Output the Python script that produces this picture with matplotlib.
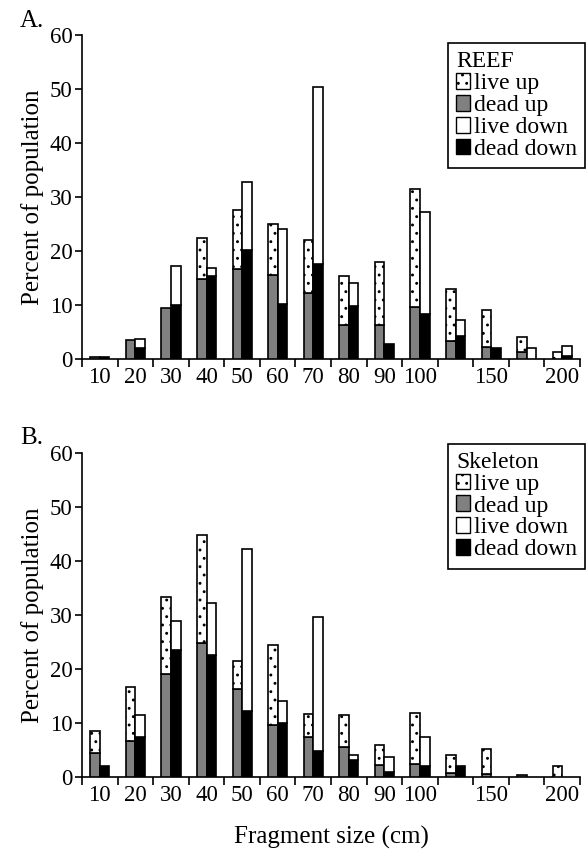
import numpy as np
import matplotlib
matplotlib.use("Agg")
import matplotlib.pyplot as plt
from matplotlib.patches import Patch

plt.rcParams['font.family'] = ['Liberation Serif', 'DejaVu Serif']
plt.rcParams['hatch.linewidth'] = 0.9

# ── data (percent of population) ─────────────────────────────────────────────
size_labels = ['10', '20', '30', '40', '50', '60', '70', '80', '90', '100', '', '150', '', '200']

reef_dead_up   = [0.4, 3.5, 9.4, 14.8, 16.7, 15.6, 12.2, 6.2, 6.2, 9.6, 3.3, 2.2, 1.2, 0]
reef_live_up   = [0, 0, 0, 7.5, 10.8, 9.3, 9.8, 9.1, 11.7, 21.9, 9.7, 6.8, 2.9, 1.2]
reef_dead_down = [0.4, 2.0, 9.9, 15.4, 20.1, 10.2, 17.5, 9.8, 2.7, 8.3, 4.2, 2.0, 0, 0.5]
reef_live_down = [0, 1.7, 7.3, 1.4, 12.6, 13.9, 32.9, 4.3, 0, 18.9, 2.9, 0, 1.9, 1.8]

skel_dead_up   = [4.4, 6.6, 19.1, 24.8, 16.3, 9.6, 7.4, 5.6, 2.2, 2.5, 0.7, 0.6, 0.3, 0]
skel_live_up   = [4.2, 10.1, 14.2, 20.0, 5.2, 14.8, 4.2, 5.9, 3.8, 9.4, 3.4, 4.6, 0, 2.0]
skel_dead_down = [2.0, 7.5, 23.5, 22.7, 12.3, 10.1, 4.9, 3.1, 0.9, 2.0, 2.0, 0, 0, 0]
skel_live_down = [0, 4.0, 5.4, 9.6, 30.0, 3.9, 24.7, 1.0, 2.8, 5.4, 0, 0, 0, 0]

GRAY = '#808080'
BW = 0.27   # bar width in category units
LW = 1.2


def draw_panel(ax, dead_up, live_up, dead_down, live_down, title, tag, leg_y, tag_y):
    x = np.arange(len(size_labels)) + 0.5
    du, lu = np.array(dead_up), np.array(live_up)
    dd, ld = np.array(dead_down), np.array(live_down)
    xu, xd = x - BW / 2, x + BW / 2

    def bars(xs, h, bottom, **kw):
        m = h > 0
        ax.bar(xs[m], h[m], BW, bottom=bottom[m], edgecolor='black',
               linewidth=LW, zorder=3, **kw)

    zero = np.zeros_like(du)
    bars(xu, du, zero, color=GRAY)
    bars(xu, lu, du, color='white', hatch='..')
    bars(xd, dd, zero, color='black')
    bars(xd, ld, dd, color='white')

    ax.set_xlim(0, len(size_labels))
    ax.set_ylim(0, 60)
    ax.set_yticks(np.arange(0, 61, 10))
    ax.set_xticks(x)
    ax.set_xticklabels(size_labels, fontsize=16.5)
    ax.set_xticks(np.arange(0, len(size_labels) + 1), minor=True)
    ax.tick_params(axis='x', which='major', length=0, pad=6)
    ax.tick_params(axis='x', which='minor', direction='out', length=6, width=LW)
    ax.tick_params(axis='y', direction='out', length=5, width=LW, labelsize=16.5, pad=2)
    for s in ('top', 'right'):
        ax.spines[s].set_visible(False)
    for s in ('left', 'bottom'):
        ax.spines[s].set_linewidth(LW)
    ax.set_ylabel('Percent of population', fontsize=18, labelpad=4)

    handles = [
        Patch(facecolor='white', edgecolor='black', hatch='..', label='live up'),
        Patch(facecolor=GRAY, edgecolor='black', label='dead up'),
        Patch(facecolor='white', edgecolor='black', label='live down'),
        Patch(facecolor='black', edgecolor='black', label='dead down'),
    ]
    leg = ax.legend(handles=handles, title=title, loc='upper right',
                    bbox_to_anchor=(1.01, leg_y), fontsize=17, title_fontsize=17,
                    alignment='left', frameon=True, fancybox=False,
                    edgecolor='black', framealpha=1, borderpad=0.35,
                    labelspacing=0.03, handlelength=0.6, handleheight=0.65,
                    handletextpad=0.15, borderaxespad=0)
    leg.get_frame().set_linewidth(LW)
    ax.text(-0.125, tag_y, tag, transform=ax.transAxes, fontsize=18,
            va='baseline', ha='left')


fig = plt.figure(figsize=(5.88, 8.52), dpi=100)
axA = fig.add_axes([0.1395, 0.579, 0.847, 0.380])
axB = fig.add_axes([0.1395, 0.088, 0.847, 0.380])

draw_panel(axA, reef_dead_up, reef_live_up, reef_dead_down, reef_live_down,
           'REEF', 'A.', 0.975, 1.025)
draw_panel(axB, skel_dead_up, skel_live_up, skel_dead_down, skel_live_down,
           'Skeleton', 'B.', 1.03, 1.03)
axB.set_xlabel('Fragment size (cm)', fontsize=18, labelpad=14)

fig.savefig('out.png', dpi=100)
plt.close(fig)
